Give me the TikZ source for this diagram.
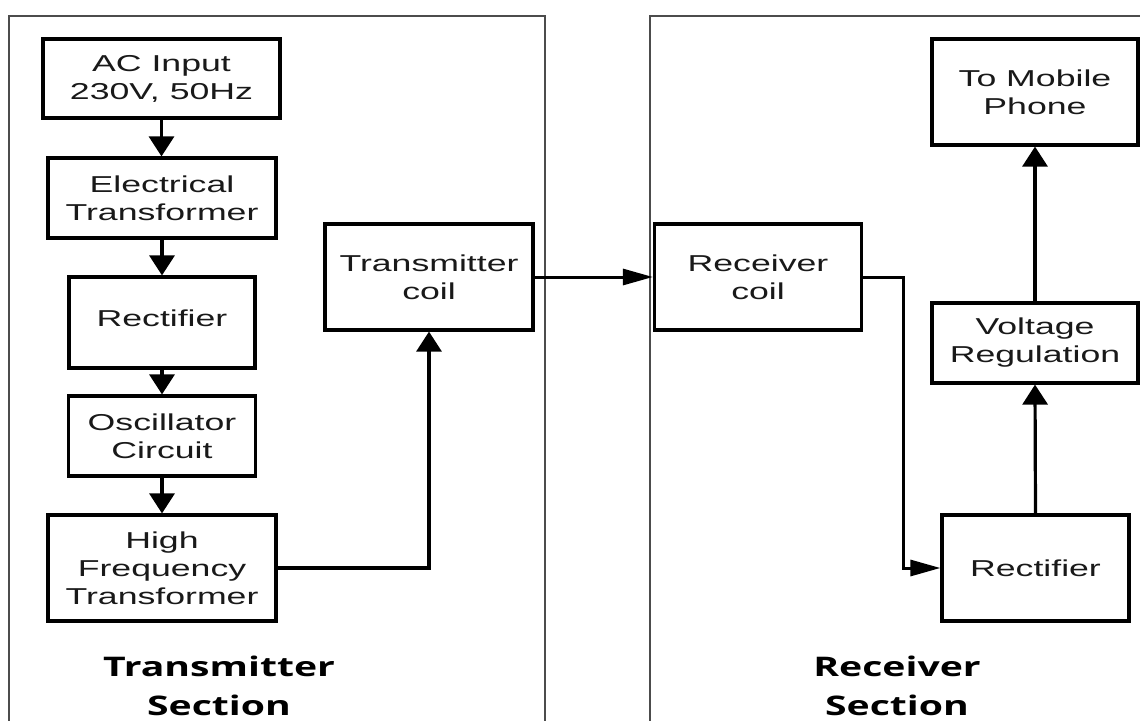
\documentclass[tikz,border=0pt]{standalone}
\usepackage{fontspec}
\setmainfont{Liberation Sans}[FakeStretch=1.55]
\newfontfamily\labelfont{Open Sans}[FakeStretch=1.45]
\usetikzlibrary{arrows.meta,positioning}

\begin{document}
\begin{tikzpicture}[x=1pt,y=-1pt,
    blk/.style={draw,line width=3.2pt,align=center,inner sep=0pt,
      font=\fontsize{23}{28}\selectfont,text=black!90},
    panel/.style={draw=black!70,line width=2pt},
    varr/.style={line width=3.2pt,-{Triangle[length=20pt,width=25pt]}},
    harr/.style={line width=3pt,-{Triangle[length=30pt,width=16pt]}},
    lbl/.style={font=\labelfont\bfseries\fontsize{27}{39}\selectfont,align=center}]
    \useasboundingbox (0,0) rectangle (1140,720);
    \fill[white] (0,0) rectangle (1140,720);
    \clip (0,0) rectangle (1140,720);
    \draw[panel] (8.5,16) rectangle (545,760);
    \draw[panel] (649.5,16) rectangle (1180,760);
    % transmitter side
    \node[blk,minimum width=237pt,minimum height=79pt] (ac) at (161.5,78.5) {AC Input\\230V, 50Hz};
    \node[blk,minimum width=228pt,minimum height=80pt] (etr) at (162,198) {Electrical\\Transformer};
    \node[blk,minimum width=186pt,minimum height=91pt] (rect1) at (162,322.5) {\raisebox{9pt}{Rectifier}};
    \node[blk,minimum width=187pt,minimum height=80pt] (osc) at (162,436) {Oscillator\\Circuit};
    \node[blk,minimum width=228pt,minimum height=106pt] (hft) at (162,568) {High\\Frequency\\Transformer};
    \node[blk,minimum width=208pt,minimum height=106pt] (txc) at (429,277) {Transmitter\\coil};
    % receiver side
    \node[blk,minimum width=207pt,minimum height=106pt] (rxc) at (758,277) {Receiver\\coil};
    \node[blk,minimum width=187pt,minimum height=106pt] (rect2) at (1035.5,568) {Rectifier};
    \node[blk,minimum width=206pt,minimum height=80pt] (vreg) at (1035,343) {Voltage\\Regulation};
    \node[blk,minimum width=206pt,minimum height=106pt] (mob) at (1035,92) {To Mobile\\Phone};
    \node[lbl] (txlbl) at (219,686) {Transmitter\\Section};
    \node[lbl] (rxlbl) at (897,686) {Receiver\\Section};
    \foreach \a/\b in {ac/etr,etr/rect1,rect1/osc,osc/hft}
      \draw[varr] (\a.south) -- (\a.south |- \b.north);
    \draw[varr] (hft.east) -| (txc.south);
    \draw[harr] (txc.east) -- (rxc.west);
    \draw[harr] (rxc.east) -- ++(40.5,0) |- (rect2.west);
    \draw[varr] (rect2.north) -- (vreg.south);
    \draw[varr] (vreg.north) -- (mob.south);
\end{tikzpicture}
\end{document}
